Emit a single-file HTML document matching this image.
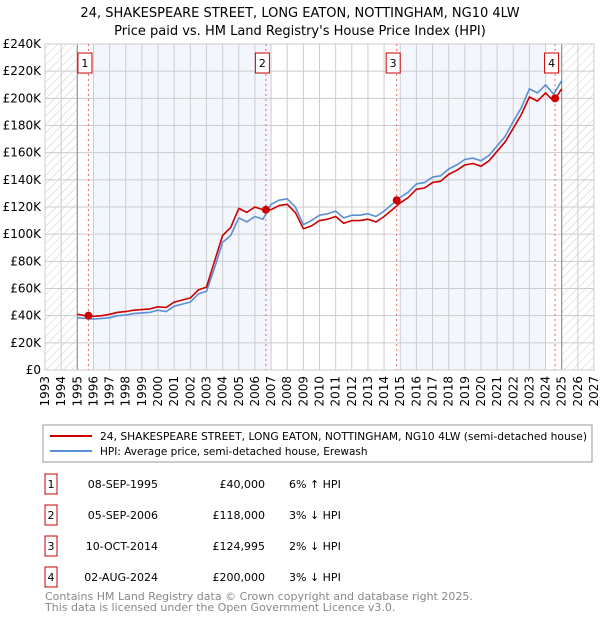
<!DOCTYPE html>
<html><head><meta charset="utf-8">
<style>
body{margin:0;background:#fff;font-family:"Liberation Sans","DejaVu Sans",sans-serif;}
svg text{font-family:"DejaVu Sans","Liberation Sans",sans-serif;}
</style></head>
<body>
<svg id="chart" width="600" height="620" viewBox="0 0 600 620" xmlns="http://www.w3.org/2000/svg">
<defs>
<pattern id="hatch" patternUnits="userSpaceOnUse" width="6" height="6" patternTransform="rotate(45)">
<line x1="0" y1="0" x2="0" y2="6" stroke="#ccc" stroke-width="1"/>
</pattern>
</defs>
<text x="300" y="17" text-anchor="middle" font-size="13">24, SHAKESPEARE STREET, LONG EATON, NOTTINGHAM, NG10 4LW</text>
<text x="300" y="35" text-anchor="middle" font-size="13">Price paid vs. HM Land Registry's House Price Index (HPI)</text>
<g id="plot"></g>
<g id="legend">
<rect x="43" y="425" width="549" height="37" fill="#fff" stroke="#999"/>
<line x1="50" y1="436" x2="92" y2="436" stroke="#cc0000" stroke-width="2"/>
<text x="100" y="440" font-size="10.5" textLength="487" lengthAdjust="spacingAndGlyphs">24, SHAKESPEARE STREET, LONG EATON, NOTTINGHAM, NG10 4LW (semi-detached house)</text>
<line x1="50" y1="451" x2="92" y2="451" stroke="#5b8fd4" stroke-width="2"/>
<text x="100" y="455" font-size="10.5">HPI: Average price, semi-detached house, Erewash</text>
</g>
<g id="table" font-size="11"></g>
<text x="45" y="600" font-size="11" fill="#888">Contains HM Land Registry data © Crown copyright and database right 2025.</text>
<text x="45" y="611" font-size="11" fill="#888">This data is licensed under the Open Government Licence v3.0.</text>
</svg>
<script>
const years=[1995,1995.5,1996,1996.5,1997,1997.5,1998,1998.5,1999,1999.5,2000,2000.5,2001,2001.5,2002,2002.5,2003,2003.5,2004,2004.5,2005,2005.5,2006,2006.5,2007,2007.5,2008,2008.5,2009,2009.5,2010,2010.5,2011,2011.5,2012,2012.5,2013,2013.5,2014,2014.5,2015,2015.5,2016,2016.5,2017,2017.5,2018,2018.5,2019,2019.5,2020,2020.5,2021,2021.5,2022,2022.5,2023,2023.5,2024,2024.5,2025];
const hpiValues=[38.5,38,37.5,38,38.5,40,40.5,41.5,42,42.5,44,43,47,48.5,50,56,58,75,94,99,112,109,113,111,122,125,126,120,107,110,114,115,117,112,114,114,115,113,117,122,127,131,137,138,142,143,148,151,155,156,154,158,165,172,183,193,207,204,210,203,213];
const priceValues=[41,40,39.5,40,41,42.5,43,44,44.5,45,46.5,46,50,51.5,53,59,61,80,99,105,119,116,120,118,118,121,122,116,104,106,110,111,113,108,110,110,111,109,113,118,123,127,133,134,138,139,144,147,151,152,150,154,161,168,178,188,201,198,204,198,207];
const saleYears=[1995.69,2006.68,2014.78,2024.59];
const saleValues=[40,118,124.995,200];
const saleLabels=["1","2","3","4"];
const saleDates=["08-SEP-1995","05-SEP-2006","10-OCT-2014","02-AUG-2024"];
const salePrices=["£40,000","£118,000","£124,995","£200,000"];
const saleDiffs=["6% ↑ HPI","3% ↓ HPI","2% ↓ HPI","3% ↓ HPI"];
const yTicks=[0,20,40,60,80,100,120,140,160,180,200,220,240];
const xTicks=[1993,1994,1995,1996,1997,1998,1999,2000,2001,2002,2003,2004,2005,2006,2007,2008,2009,2010,2011,2012,2013,2014,2015,2016,2017,2018,2019,2020,2021,2022,2023,2024,2025,2026,2027];

const X0=45,X1=594,Y0=370,Y1=44;
const xs=y=>X0+(y-1993)/(2027-1993)*(X1-X0);
const ys=v=>Y0-v/240*(Y0-Y1);
const NS="http://www.w3.org/2000/svg";
const plot=document.getElementById('plot');
function mk(tag,attrs,parent){const e=document.createElementNS(NS,tag);for(const k in attrs)e.setAttribute(k,attrs[k]);(parent||plot).appendChild(e);return e;}

let r=mk('rect',{x:X0,y:Y1,width:X1-X0,height:Y0-Y1,fill:'#fff'});


[[1996,2007],[2015,2024]].forEach(b=>{
  const s=mk('rect',{x:xs(b[0]),y:Y1,width:xs(b[1])-xs(b[0]),height:Y0-Y1,fill:'#f3f6fd'});
  
  
});
[[1993,1995],[2025,2027]].forEach(b=>{
  const h=mk('rect',{x:xs(b[0]),y:Y1,width:xs(b[1])-xs(b[0]),height:Y0-Y1,fill:'url(#hatch)'});
  
  
});
yTicks.forEach(t=>{
  const l=mk('line',{x1:X0,x2:X1,y1:ys(t),y2:ys(t),stroke:'#ccc','stroke-width':1});
  
  
  const tx=mk('text',{x:X0-4,y:ys(t)+4,'text-anchor':'end','font-size':12});
  tx.textContent=t===0?'£0':'£'+t+'K';
  
  
});
xTicks.forEach(t=>{
  const l=mk('line',{x1:xs(t),x2:xs(t),y1:Y1,y2:Y0,stroke:'#ccc','stroke-width':1});
  
  
  const tx=mk('text',{x:0,y:0,'text-anchor':'end','font-size':12,transform:`translate(${xs(t)+4},${Y0+6}) rotate(-90)`});
  tx.textContent=t;
  
  
});
[1995,2025].forEach(t=>{
  const l=mk('line',{x1:xs(t),x2:xs(t),y1:Y1,y2:Y0,stroke:'#888','stroke-width':1});
  
  
});
let fr=mk('rect',{x:X0,y:Y1,width:X1-X0,height:Y0-Y1,fill:'none',stroke:'#ccc'});


saleYears.forEach((sy,i)=>{
  const l=mk('line',{x1:xs(sy),x2:xs(sy),y1:Y1,y2:Y0,stroke:'#e66','stroke-width':1,'stroke-dasharray':'2,3'});
  
  
});
function path(vals,color,name){
  const d=years.map((y,i)=>(i?'L':'M')+xs(y).toFixed(1)+','+ys(vals[i]).toFixed(1)).join('');
  const p=mk('path',{d:d,fill:'none',stroke:color,'stroke-width':1.6,'stroke-linejoin':'round'});
  
  
}
path(hpiValues,'#5b8fd4','hpi-line');
path(priceValues,'#cc0000','price-paid-line');
saleYears.forEach((sy,i)=>{
  const c=mk('circle',{cx:xs(sy),cy:ys(saleValues[i]),r:4,fill:'#cc0000'});
  
  
  const bx=xs(sy)-3.5;
  const b=mk('rect',{x:bx-7,y:53,width:14,height:20,fill:'#fff',stroke:'#cc0000'});
  
  
  const t=mk('text',{x:bx,y:67,'text-anchor':'middle','font-size':11});
  t.textContent=saleLabels[i];
  
  
});
const tb=document.getElementById('table');
saleDates.forEach((d,i)=>{
  const cy=483+i*31;
  const b=mk('rect',{x:45,y:cy-9,width:12,height:20,fill:'#fff',stroke:'#cc0000'},tb);
  
  
  const n=mk('text',{x:51,y:cy+5,'text-anchor':'middle'},tb);n.textContent=saleLabels[i];
  
  
  const dt=mk('text',{x:158,y:cy+5,'text-anchor':'end'},tb);dt.textContent=d;
  
  
  const pr=mk('text',{x:265,y:cy+5,'text-anchor':'end'},tb);pr.textContent=salePrices[i];
  
  
  const df=mk('text',{x:289,y:cy+5},tb);df.textContent=saleDiffs[i];
  
  
});
</script>
</body></html>
